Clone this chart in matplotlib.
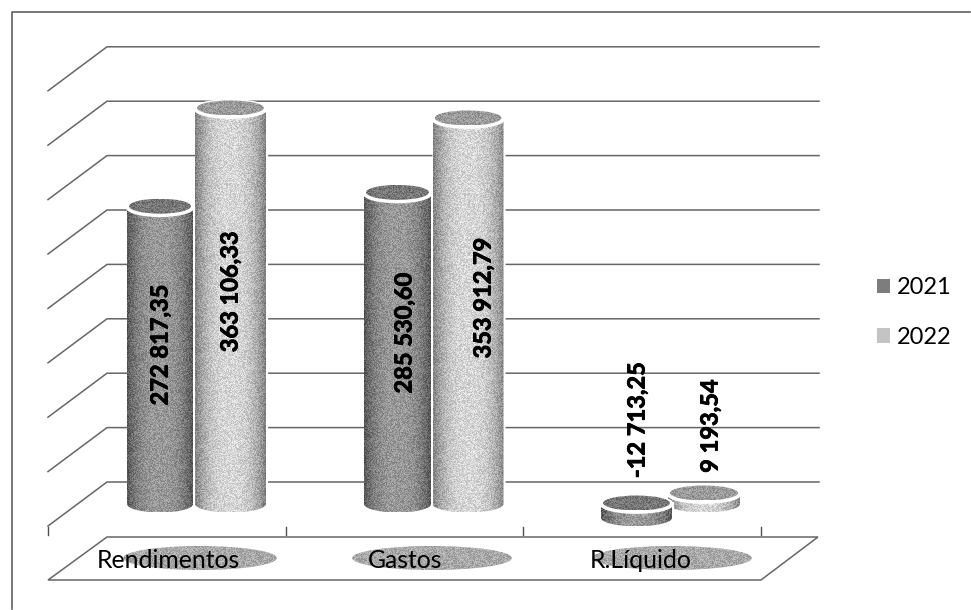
import numpy as np
import matplotlib
matplotlib.use('Agg')
import matplotlib.pyplot as plt
import matplotlib.patheffects as pe
from matplotlib.patches import Ellipse, PathPatch, Polygon, Patch
from matplotlib.path import Path

# Data
categories = ['Rendimentos', 'Gastos', 'R.Líquido']
values_2021 = [272817.35, 285530.60, -12713.25]
values_2022 = [363106.33, 353912.79, 9193.54]
labels_2021 = ['272 817,35', '285 530,60', '-12 713,25']
labels_2022 = ['363 106,33', '353 912,79', '9 193,54']
gridvalues = [0, 50000, 100000, 150000, 200000, 250000, 300000, 350000, 400000]

W, H = 971, 610
PX_PER_UNIT = 1.088 / 1000
GROUP_PX = 237.5
ZERO_X, ZERO_Y = 195, 504


def xd(px):
    return (px - ZERO_X) / GROUP_PX


def vd(py):
    return (ZERO_Y - py) / PX_PER_UNIT


plt.rcParams['font.family'] = ['Lato', 'DejaVu Sans']
fig = plt.figure(figsize=(W / 100, H / 100), dpi=100)
ax = fig.add_axes([0, 0, 1, 1])
ax.axis('off')


def speckle(nx, ny):
    # shader style hash, gives the scanned halftone grain
    xx, yy = np.meshgrid(np.arange(nx), np.arange(ny))
    s = np.sin(xx * 12.9898 + yy * 78.233) * 43758.5453
    return s - np.floor(s) - 0.5


def blob(cx, cy, w, h, grey):
    nx, ny = int(w), int(h)
    img = np.clip(grey + 0.22 * speckle(nx, ny), 0, 1)
    im = ax.imshow(img, cmap='gray', vmin=0, vmax=1, aspect='auto', interpolation='nearest',
                   extent=[xd(cx - w / 2), xd(cx + w / 2), vd(cy + h / 2), vd(cy - h / 2)], zorder=1.5)
    e = Ellipse((xd(cx), vd(cy)), w / GROUP_PX, h / PX_PER_UNIT, fc='none', ec='none')
    ax.add_patch(e)
    im.set_clip_path(e)


def cylinder(x_px, half_w, value, edge, centre, top_grey, zorder):
    ry = 8.5
    # positive bars go up from zero, negative ones hang below it
    base_v, top_v = (0, value) if value >= 0 else (value, 0)
    ry_v = ry / PX_PER_UNIT
    cx = xd(x_px)
    hw = half_w / GROUP_PX
    th = np.linspace(np.pi, 2 * np.pi, 50)
    xs = np.r_[cx + hw * np.cos(th), cx + hw, cx - hw]
    ys = np.r_[base_v + ry_v * np.sin(th), top_v, top_v]
    body = PathPatch(Path(np.c_[xs, ys], closed=False), fc='white', ec='white', lw=3, zorder=zorder)
    ax.add_patch(body)

    nx = int(round(2 * half_w))
    ny = int(round((top_v - base_v) * PX_PER_UNIT + ry))
    u = np.linspace(-1, 1, nx)
    shade = edge + (centre - edge) * (1 - np.abs(u) ** 2.5)
    img = np.clip(np.tile(shade, (ny, 1)) + 0.22 * speckle(nx, ny), 0, 1)
    im = ax.imshow(img, cmap='gray', vmin=0, vmax=1, aspect='auto', interpolation='nearest',
                   extent=[cx - hw, cx + hw, base_v - ry_v, top_v], zorder=zorder + 0.01)
    clip = PathPatch(Path(np.c_[xs, ys], closed=False), fc='none', ec='none', zorder=zorder)
    ax.add_patch(clip)
    im.set_clip_path(clip)

    lid = Ellipse((cx, top_v), 2 * hw, 2 * ry_v, fc='white', ec='white', lw=2, zorder=zorder + 0.02)
    ax.add_patch(lid)
    lid_w, lid_h = 2 * half_w - 4, 2 * ry - 2
    nx, ny = int(lid_w), int(lid_h)
    img = np.clip(top_grey + 0.22 * speckle(nx, ny), 0, 1)
    im = ax.imshow(img, cmap='gray', vmin=0, vmax=1, aspect='auto', interpolation='nearest',
                   extent=[cx - lid_w / 2 / GROUP_PX, cx + lid_w / 2 / GROUP_PX,
                           top_v - (lid_h / 2 - 1) / PX_PER_UNIT, top_v + (lid_h / 2 + 1) / PX_PER_UNIT],
                   zorder=zorder + 0.03)
    lid_clip = Ellipse((cx, top_v + 1 / PX_PER_UNIT), lid_w / GROUP_PX, lid_h / PX_PER_UNIT, fc='none', ec='none')
    ax.add_patch(lid_clip)
    im.set_clip_path(lid_clip)


# Outer frame
line_col = '#666666'
ax.plot([xd(12), xd(12), xd(970)], [vd(609), vd(12), vd(12)], color='#606060', lw=1.2, zorder=1)

# Walls: gridlines on the back plane with a diagonal on the side wall
back_px = 59
back_up = 22 / PX_PER_UNIT
for v in gridvalues:
    ax.plot([xd(48), xd(48 + back_px), xd(819)], [v + back_up - 44 / PX_PER_UNIT, v + back_up, v + back_up],
            color=line_col, lw=1.1, zorder=1)

# Ticks on the category axis
for px in [48, 286, 523, 761]:
    ax.plot([xd(px), xd(px)], [vd(527), vd(535)], color='#505050', lw=1, zorder=1)

# Floor band holding the category labels
floor = Polygon([[xd(48), vd(580)], [xd(107), vd(537)], [xd(818), vd(537)], [xd(761), vd(580)]],
                closed=True, fc='white', ec=line_col, lw=1.1, zorder=1)
ax.add_patch(floor)

blob(200, 558, 154, 24, 0.66)
blob(432, 558, 160, 24, 0.66)
blob(672, 558, 160, 24, 0.66)

label_px = [168, 405, 641]
for lab, px in zip(categories, label_px):
    ax.text(xd(px), vd(561), lab, ha='center', va='center', fontsize=17.8, color='black', zorder=3)

# Bars
half_2021 = [33, 33.5, 35.5]
half_2022 = [35.5, 35.5, 36]
xpos_2021 = [160, 397.5, 636.5]
xpos_2022 = [230.5, 468, 704]
for i in range(3):
    cylinder(xpos_2022[i], half_2022[i], values_2022[i], 0.50, 0.84, 0.60, 2)
    cylinder(xpos_2021[i], half_2021[i], values_2021[i], 0.34, 0.60, 0.46, 2.2)

# Value labels, the two small bars carry them above the bar
lab_x_2021 = [160, 404, 637]
lab_x_2022 = [230, 483, 710]
lab_y_2021 = [345, 333, 420]
lab_y_2022 = [292, 298, 426]
heavy = [pe.withStroke(linewidth=0.6, foreground='black')]
for i in range(3):
    ax.text(xd(lab_x_2021[i]), vd(lab_y_2021[i]), labels_2021[i], rotation=90, ha='center', va='center',
            fontsize=17, fontweight='bold', color='black', zorder=4, path_effects=heavy)
    ax.text(xd(lab_x_2022[i]), vd(lab_y_2022[i]), labels_2022[i], rotation=90, ha='center', va='center',
            fontsize=17, fontweight='bold', color='black', zorder=4, path_effects=heavy)

ax.set_xlim(xd(0), xd(W))
ax.set_ylim(vd(H), vd(0))

handles = [Patch(fc='#7d7d7d', ec='none'), Patch(fc='#c4c4c4', ec='none')]
ax.legend(handles, ['2021', '2022'], loc='center left', bbox_to_anchor=(877 / W, 1 - 312.5 / H), frameon=False,
          fontsize=17, handlelength=0.55, handleheight=0.55, labelspacing=1.22, handletextpad=0.3,
          borderpad=0, borderaxespad=0)

fig.savefig('out.png', dpi=100)
